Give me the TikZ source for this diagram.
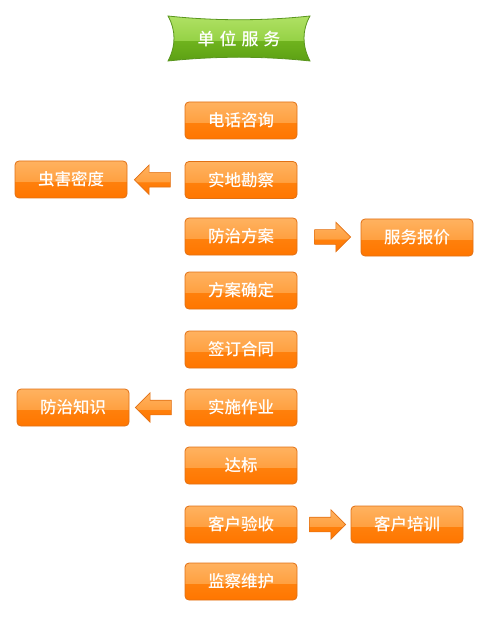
\documentclass[tikz,border=0pt]{standalone}
\usepackage{fontspec}
\newfontfamily\cjk{Noto Sans CJK SC}
\newfontfamily\cjkm{Noto Sans CJK SC Medium}
\usetikzlibrary{shapes.arrows}
\definecolor{obot}{RGB}{255,118,0}
\definecolor{omid}{RGB}{255,128,12}
\definecolor{otop1}{RGB}{255,160,64}
\definecolor{otop2}{RGB}{255,178,96}
\definecolor{oline}{RGB}{225,112,20}
\definecolor{gbot}{RGB}{92,160,20}
\definecolor{gmid}{RGB}{112,180,30}
\definecolor{gtop1}{RGB}{150,210,70}
\definecolor{gtop2}{RGB}{175,225,100}
\definecolor{gline}{RGB}{90,150,30}
\pgfdeclareverticalshading{oglossy}{100bp}{color(0bp)=(obot); color(25bp)=(obot); color(47bp)=(omid); color(47bp)=(otop1); color(75bp)=(otop2); color(100bp)=(otop2)}
\pgfdeclareverticalshading{gglossy}{100bp}{color(0bp)=(gbot); color(25bp)=(gbot); color(48bp)=(gmid); color(48bp)=(gtop1); color(75bp)=(gtop2); color(100bp)=(gtop2)}
\tikzset{
  stepbox/.style={draw=oline, line width=0.8pt, rounded corners=4pt, shading=oglossy,
    minimum width=112pt, minimum height=37pt, inner sep=0pt,
    text=white, font=\cjkm\fontsize{16.5}{18}\selectfont},
  blockarrow/.style={single arrow, draw=oline, line width=0.6pt, shading=oglossy,
    minimum height=36pt, minimum width=29pt, single arrow head extend=7.5pt,
    single arrow head indent=0pt, inner xsep=0pt, inner ysep=7pt, anchor=center},
}
\begin{document}
\begin{tikzpicture}[x=1pt,y=-1pt]
\useasboundingbox (0,0) rectangle (490,617);
% title banner
\path[shading=gglossy, draw=gline, line width=0.8pt]
  (168,16) .. controls (215,21) and (263,21) .. (310,16)
  .. controls (302,30) and (302,46) .. (310,61)
  .. controls (263,56) and (215,56) .. (168,61)
  .. controls (176,46) and (176,30) .. (168,16) -- cycle;
\node[text=white, font=\cjkm\fontsize{17}{18}\selectfont] (title) at (239,38.5) {单\hspace{5pt}位\hspace{5pt}服\hspace{5pt}务};
% main column
\node[stepbox] (s1) at (241,120.5) {电话咨询};
\node[stepbox] (s2) at (241,180) {实地勘察};
\node[stepbox] (s3) at (241,236.5) {防治方案};
\node[stepbox] (s4) at (241,290.5) {方案确定};
\node[stepbox] (s5) at (241,349.5) {签订合同};
\node[stepbox] (s6) at (241,407.5) {实施作业};
\node[stepbox] (s7) at (241,465.5) {达标};
\node[stepbox] (s8) at (241,524.5) {客户验收};
\node[stepbox] (s9) at (241,581.5) {监察维护};
% side boxes
\node[stepbox] (b1) at (71,179.5) {虫害密度};
\node[stepbox] (b2) at (417,237.5) {服务报价};
\node[stepbox] (b3) at (73,407.5) {防治知识};
\node[stepbox] (b4) at (407,524.5) {客户培训};
% block arrows
\path (s2.west) -- (b1.east) node[midway, blockarrow, shape border rotate=180] (a1) {};
\path (s3.east) -- (b2.west) node[midway, blockarrow] (a2) {};
\path (s6.west) -- (b3.east) node[midway, blockarrow, shape border rotate=180] (a3) {};
\path (s8.east) -- (b4.west) node[midway, blockarrow] (a4) {};
\end{tikzpicture}
\end{document}
